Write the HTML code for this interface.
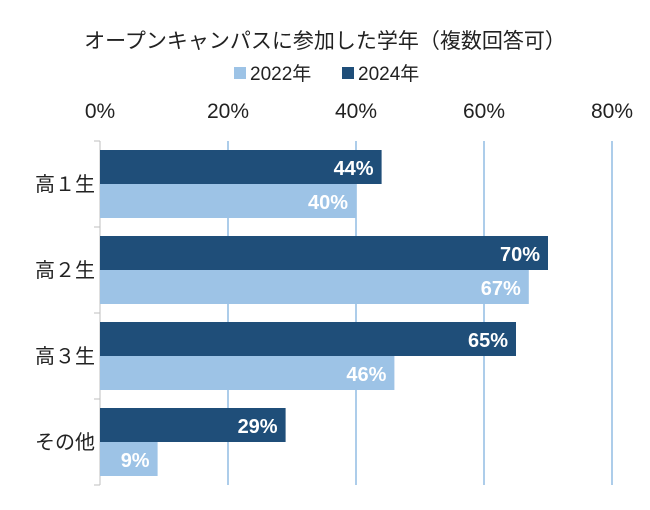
<!DOCTYPE html>
<html><head><meta charset="utf-8">
<style>
html,body{margin:0;padding:0;background:#fff;}
svg{display:block;font-family:"Liberation Sans","Noto Sans CJK JP",sans-serif;}
</style></head>
<body>
<svg id="chart" width="650" height="510" viewBox="0 0 650 510">
<text x="325" y="48" text-anchor="middle" font-size="21" fill="#222">オープンキャンパスに参加した学年（複数回答可）</text>
<g>
<rect x="234" y="67" width="12" height="12" fill="#9dc3e6"/>
<text x="250" y="80" font-size="19" fill="#222">2022年</text>
<rect x="342" y="67" width="12" height="12" fill="#1f4e79"/>
<text x="358" y="80" font-size="19" fill="#222">2024年</text>
</g>
<g id="grid"></g><g id="bars"></g><g id="labels"></g>
</svg>
<script>
const categories=["高１生","高２生","高３生","その他"];
const values2022=[40,67,46,9];
const values2024=[44,70,65,29];
const ticks=[0,20,40,60,80];
const ns="http://www.w3.org/2000/svg";
const x0=100,pxPer=6.4,top0=141,band=86;
const xs=v=>x0+v*pxPer;
function mk(tag,attrs,parent){const e=document.createElementNS(ns,tag);for(const k in attrs)e.setAttribute(k,attrs[k]);parent.appendChild(e);return e;}
const grid=document.getElementById('grid'),bars=document.getElementById('bars'),labels=document.getElementById('labels');
ticks.forEach(t=>{
 if(t>0){const l=mk('line',{x1:xs(t),x2:xs(t),y1:top0,y2:top0+band*4,stroke:'#5b9bd5','stroke-width':1},grid);
 
 }
 const tx=mk('text',{x:xs(t),y:118,'text-anchor':'middle','font-size':21,fill:'#222'},grid);
 tx.textContent=t+'%';
 
 
});
const ax=mk('line',{x1:x0,x2:x0,y1:top0,y2:top0+band*4,stroke:'#bfbfbf','stroke-width':1},grid);


for(let i=0;i<=4;i++){const tk=mk('line',{x1:x0-6,x2:x0,y1:top0+band*i,y2:top0+band*i,stroke:'#bfbfbf'},grid);
 
 }
categories.forEach((c,i)=>{
 const y=top0+band*i;
 const ct=mk('text',{x:65,y:y+band/2+7,'text-anchor':'middle','font-size':20,fill:'#222'},labels);
 ct.textContent=c;
 
 
 [[values2024[i],'#1f4e79',y+9,'2024'],[values2022[i],'#9dc3e6',y+43,'2022']].forEach(([v,col,by,s])=>{
  const r=mk('rect',{x:x0,y:by,width:v*pxPer,height:34,fill:col},bars);
  
  
  const t=mk('text',{x:xs(v)-8,y:by+25,'text-anchor':'end','font-size':20,'font-weight':'bold',fill:'#fff'},labels);
  t.textContent=v+'%';
  
  
 });
});
</script>
</body></html>
